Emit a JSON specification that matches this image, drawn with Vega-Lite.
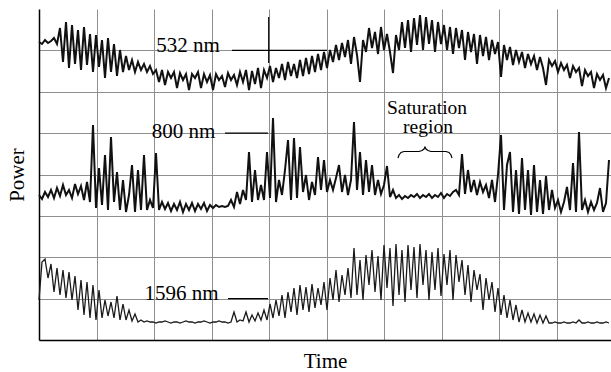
{
  "$schema": "https://vega.github.io/schema/vega-lite/v6.json",
  "width": 572,
  "height": 331,
  "autosize": {"type": "none"},
  "padding": {"left": 39, "top": 9, "right": 0, "bottom": 32},
  "background": "white",
  "config": {
    "view": {"stroke": null},
    "font": "Liberation Serif",
    "axis": {
      "grid": true,
      "gridColor": "#8f8f8f",
      "gridWidth": 1,
      "labels": false,
      "ticks": false,
      "domainColor": "#000000",
      "domainWidth": 1.5,
      "titleFont": "Liberation Serif",
      "titleFontSize": 21,
      "titleFontWeight": "normal",
      "titleColor": "#000000"
    }
  },
  "datasets": {
    "traces": [
      {"t":0,"p532":298,"p800":145,"p1596":40},
      {"t":3,"p532":296,"p800":141,"p1596":78},
      {"t":6,"p532":300,"p800":148,"p1596":81},
      {"t":9,"p532":297,"p800":143,"p1596":62},
      {"t":12,"p532":299,"p800":150,"p1596":76},
      {"t":15,"p532":302,"p800":142,"p1596":48},
      {"t":18,"p532":296,"p800":152,"p1596":72},
      {"t":21,"p532":312,"p800":144,"p1596":45},
      {"t":24,"p532":278,"p800":155,"p1596":70},
      {"t":27,"p532":318,"p800":145,"p1596":42},
      {"t":30,"p532":272,"p800":150,"p1596":68},
      {"t":33,"p532":315,"p800":142,"p1596":40},
      {"t":36,"p532":276,"p800":156,"p1596":64},
      {"t":39,"p532":310,"p800":146,"p1596":30},
      {"t":42,"p532":270,"p800":154,"p1596":60},
      {"t":45,"p532":313,"p800":140,"p1596":25},
      {"t":48,"p532":275,"p800":158,"p1596":58},
      {"t":51,"p532":306,"p800":138,"p1596":22},
      {"t":54,"p532":268,"p800":215,"p1596":55},
      {"t":57,"p532":305,"p800":132,"p1596":20},
      {"t":60,"p532":273,"p800":172,"p1596":50},
      {"t":63,"p532":300,"p800":135,"p1596":22},
      {"t":66,"p532":262,"p800":185,"p1596":40},
      {"t":69,"p532":302,"p800":130,"p1596":24},
      {"t":72,"p532":268,"p800":203,"p1596":38},
      {"t":75,"p532":296,"p800":138,"p1596":22},
      {"t":78,"p532":264,"p800":168,"p1596":44},
      {"t":81,"p532":290,"p800":130,"p1596":20},
      {"t":84,"p532":268,"p800":160,"p1596":36},
      {"t":87,"p532":284,"p800":128,"p1596":20},
      {"t":90,"p532":270,"p800":145,"p1596":30},
      {"t":93,"p532":280,"p800":175,"p1596":19},
      {"t":96,"p532":268,"p800":128,"p1596":26},
      {"t":99,"p532":278,"p800":170,"p1596":18},
      {"t":102,"p532":270,"p800":130,"p1596":20},
      {"t":105,"p532":276,"p800":185,"p1596":18},
      {"t":108,"p532":268,"p800":130,"p1596":19},
      {"t":111,"p532":274,"p800":140,"p1596":18},
      {"t":114,"p532":266,"p800":132,"p1596":18},
      {"t":117,"p532":270,"p800":187,"p1596":17},
      {"t":120,"p532":258,"p800":130,"p1596":18},
      {"t":123,"p532":270,"p800":138,"p1596":18},
      {"t":126,"p532":255,"p800":131,"p1596":19},
      {"t":129,"p532":268,"p800":137,"p1596":18},
      {"t":132,"p532":262,"p800":129,"p1596":17},
      {"t":135,"p532":268,"p800":136,"p1596":18},
      {"t":138,"p532":252,"p800":130,"p1596":18},
      {"t":141,"p532":267,"p800":138,"p1596":17},
      {"t":144,"p532":260,"p800":128,"p1596":18},
      {"t":147,"p532":266,"p800":136,"p1596":19},
      {"t":150,"p532":250,"p800":130,"p1596":18},
      {"t":153,"p532":266,"p800":137,"p1596":18},
      {"t":156,"p532":262,"p800":129,"p1596":17},
      {"t":159,"p532":268,"p800":136,"p1596":18},
      {"t":162,"p532":252,"p800":131,"p1596":18},
      {"t":165,"p532":266,"p800":137,"p1596":19},
      {"t":168,"p532":258,"p800":129,"p1596":18},
      {"t":171,"p532":265,"p800":135,"p1596":17},
      {"t":174,"p532":250,"p800":132,"p1596":18},
      {"t":177,"p532":266,"p800":135,"p1596":18},
      {"t":180,"p532":260,"p800":133,"p1596":19},
      {"t":183,"p532":264,"p800":134,"p1596":18},
      {"t":186,"p532":253,"p800":133,"p1596":18},
      {"t":189,"p532":267,"p800":134,"p1596":17},
      {"t":192,"p532":260,"p800":140,"p1596":18},
      {"t":195,"p532":265,"p800":133,"p1596":28},
      {"t":198,"p532":255,"p800":148,"p1596":18},
      {"t":201,"p532":268,"p800":136,"p1596":20},
      {"t":204,"p532":258,"p800":150,"p1596":19},
      {"t":207,"p532":270,"p800":140,"p1596":28},
      {"t":210,"p532":250,"p800":188,"p1596":18},
      {"t":213,"p532":269,"p800":138,"p1596":25},
      {"t":216,"p532":256,"p800":170,"p1596":19},
      {"t":219,"p532":272,"p800":140,"p1596":27},
      {"t":222,"p532":252,"p800":155,"p1596":20},
      {"t":225,"p532":270,"p800":140,"p1596":30},
      {"t":228,"p532":262,"p800":188,"p1596":20},
      {"t":231,"p532":274,"p800":142,"p1596":36},
      {"t":234,"p532":258,"p800":222,"p1596":22},
      {"t":237,"p532":272,"p800":138,"p1596":40},
      {"t":240,"p532":262,"p800":160,"p1596":24},
      {"t":243,"p532":276,"p800":145,"p1596":45},
      {"t":246,"p532":260,"p800":170,"p1596":22},
      {"t":249,"p532":278,"p800":200,"p1596":48},
      {"t":252,"p532":264,"p800":140,"p1596":28},
      {"t":255,"p532":276,"p800":202,"p1596":52},
      {"t":258,"p532":262,"p800":142,"p1596":25},
      {"t":261,"p532":280,"p800":193,"p1596":55},
      {"t":264,"p532":264,"p800":148,"p1596":30},
      {"t":267,"p532":282,"p800":165,"p1596":53},
      {"t":270,"p532":266,"p800":140,"p1596":28},
      {"t":273,"p532":284,"p800":158,"p1596":56},
      {"t":276,"p532":268,"p800":145,"p1596":32},
      {"t":279,"p532":286,"p800":183,"p1596":52},
      {"t":282,"p532":270,"p800":150,"p1596":35},
      {"t":285,"p532":288,"p800":180,"p1596":58},
      {"t":288,"p532":272,"p800":148,"p1596":30},
      {"t":291,"p532":290,"p800":160,"p1596":62},
      {"t":294,"p532":278,"p800":150,"p1596":40},
      {"t":297,"p532":295,"p800":162,"p1596":70},
      {"t":300,"p532":280,"p800":175,"p1596":38},
      {"t":303,"p532":297,"p800":148,"p1596":65},
      {"t":306,"p532":283,"p800":165,"p1596":45},
      {"t":309,"p532":300,"p800":145,"p1596":72},
      {"t":312,"p532":276,"p800":160,"p1596":42},
      {"t":315,"p532":303,"p800":218,"p1596":92},
      {"t":318,"p532":285,"p800":150,"p1596":45},
      {"t":321,"p532":258,"p800":188,"p1596":80},
      {"t":324,"p532":300,"p800":145,"p1596":40},
      {"t":327,"p532":288,"p800":180,"p1596":85},
      {"t":330,"p532":312,"p800":148,"p1596":55},
      {"t":333,"p532":292,"p800":175,"p1596":90},
      {"t":336,"p532":308,"p800":145,"p1596":48},
      {"t":339,"p532":286,"p800":160,"p1596":84},
      {"t":342,"p532":313,"p800":146,"p1596":40},
      {"t":345,"p532":290,"p800":155,"p1596":95},
      {"t":348,"p532":306,"p800":174,"p1596":52},
      {"t":351,"p532":288,"p800":143,"p1596":92},
      {"t":354,"p532":267,"p800":150,"p1596":34},
      {"t":357,"p532":305,"p800":142,"p1596":96},
      {"t":360,"p532":290,"p800":145,"p1596":45},
      {"t":363,"p532":318,"p800":141,"p1596":90},
      {"t":366,"p532":292,"p800":144,"p1596":38},
      {"t":369,"p532":320,"p800":142,"p1596":95},
      {"t":372,"p532":288,"p800":145,"p1596":50},
      {"t":375,"p532":322,"p800":143,"p1596":93},
      {"t":378,"p532":295,"p800":146,"p1596":42},
      {"t":381,"p532":325,"p800":142,"p1596":96},
      {"t":384,"p532":290,"p800":145,"p1596":55},
      {"t":387,"p532":323,"p800":143,"p1596":90},
      {"t":390,"p532":296,"p800":146,"p1596":40},
      {"t":393,"p532":320,"p800":142,"p1596":88},
      {"t":396,"p532":288,"p800":145,"p1596":50},
      {"t":399,"p532":318,"p800":143,"p1596":92},
      {"t":402,"p532":296,"p800":147,"p1596":44},
      {"t":405,"p532":315,"p800":142,"p1596":86},
      {"t":408,"p532":290,"p800":146,"p1596":55},
      {"t":411,"p532":313,"p800":144,"p1596":90},
      {"t":414,"p532":286,"p800":148,"p1596":40},
      {"t":417,"p532":312,"p800":150,"p1596":85},
      {"t":420,"p532":292,"p800":145,"p1596":58},
      {"t":423,"p532":310,"p800":186,"p1596":80},
      {"t":426,"p532":280,"p800":146,"p1596":45},
      {"t":429,"p532":308,"p800":170,"p1596":75},
      {"t":432,"p532":288,"p800":148,"p1596":38},
      {"t":435,"p532":306,"p800":160,"p1596":70},
      {"t":438,"p532":276,"p800":145,"p1596":50},
      {"t":441,"p532":305,"p800":158,"p1596":66},
      {"t":444,"p532":284,"p800":148,"p1596":30},
      {"t":447,"p532":303,"p800":155,"p1596":62},
      {"t":450,"p532":280,"p800":142,"p1596":40},
      {"t":453,"p532":300,"p800":160,"p1596":58},
      {"t":456,"p532":286,"p800":138,"p1596":28},
      {"t":459,"p532":298,"p800":165,"p1596":52},
      {"t":462,"p532":263,"p800":205,"p1596":25},
      {"t":465,"p532":295,"p800":130,"p1596":45},
      {"t":468,"p532":280,"p800":175,"p1596":22},
      {"t":471,"p532":293,"p800":188,"p1596":40},
      {"t":474,"p532":275,"p800":128,"p1596":20},
      {"t":477,"p532":290,"p800":170,"p1596":35},
      {"t":480,"p532":278,"p800":126,"p1596":18},
      {"t":483,"p532":288,"p800":182,"p1596":30},
      {"t":486,"p532":272,"p800":130,"p1596":18},
      {"t":489,"p532":286,"p800":170,"p1596":27},
      {"t":492,"p532":276,"p800":125,"p1596":18},
      {"t":495,"p532":284,"p800":175,"p1596":26},
      {"t":498,"p532":270,"p800":128,"p1596":17},
      {"t":501,"p532":283,"p800":160,"p1596":25},
      {"t":504,"p532":272,"p800":126,"p1596":17},
      {"t":507,"p532":255,"p800":164,"p1596":24},
      {"t":510,"p532":280,"p800":130,"p1596":17},
      {"t":513,"p532":274,"p800":150,"p1596":17},
      {"t":516,"p532":279,"p800":132,"p1596":18},
      {"t":519,"p532":268,"p800":140,"p1596":17},
      {"t":522,"p532":277,"p800":128,"p1596":17},
      {"t":525,"p532":270,"p800":138,"p1596":18},
      {"t":528,"p532":275,"p800":153,"p1596":17},
      {"t":531,"p532":262,"p800":130,"p1596":17},
      {"t":534,"p532":274,"p800":177,"p1596":18},
      {"t":537,"p532":268,"p800":128,"p1596":17},
      {"t":540,"p532":272,"p800":208,"p1596":20},
      {"t":543,"p532":254,"p800":130,"p1596":17},
      {"t":546,"p532":270,"p800":140,"p1596":17},
      {"t":549,"p532":264,"p800":128,"p1596":18},
      {"t":552,"p532":268,"p800":138,"p1596":17},
      {"t":555,"p532":252,"p800":130,"p1596":17},
      {"t":558,"p532":266,"p800":137,"p1596":18},
      {"t":561,"p532":260,"p800":152,"p1596":17},
      {"t":564,"p532":265,"p800":128,"p1596":17},
      {"t":567,"p532":252,"p800":137,"p1596":18},
      {"t":570,"p532":262,"p800":180,"p1596":17}
    ],
    "labels": [
      {"t":149,"p":288.3,"label":"532 nm"},
      {"t":144.5,"p":202,"label":"800 nm"},
      {"t":142.5,"p":40,"label":"1596 nm"}
    ],
    "notes": [
      {"t":388,"p":226.5,"label":"Saturation"},
      {"t":389,"p":207.5,"label":"region"}
    ],
    "leaders": [
      {"t":193,"t2":288,"p":289.6,"p2":289.6},
      {"t":229.7,"t2":229.7,"p":277,"p2":323},
      {"t":186,"t2":229,"p":206.9,"p2":206.9},
      {"t":189,"t2":229,"p":41.4,"p2":41.4}
    ],
    "brace": [
      {"t":359,"p":182},
      {"t":360,"p":185},
      {"t":362,"p":187.5},
      {"t":365,"p":188.5},
      {"t":380,"p":188.5},
      {"t":383,"p":189.5},
      {"t":385,"p":191},
      {"t":386,"p":193},
      {"t":387,"p":191},
      {"t":389,"p":189.5},
      {"t":392,"p":188.5},
      {"t":407,"p":188.5},
      {"t":410,"p":187.5},
      {"t":412,"p":185},
      {"t":413,"p":182}
    ]
  },
  "layer": [
    {
      "data": {"name": "traces"},
      "mark": {"type": "line", "color": "#1a1a1a", "strokeWidth": 1.3},
      "encoding": {
        "x": {
          "field": "t", "type": "quantitative",
          "scale": {"domain": [0, 572], "nice": false, "zero": false},
          "axis": {"values": [57.5, 115, 172.5, 230, 287.5, 345, 402.5, 460, 517.5], "titlePadding": 10},
          "title": "Time"
        },
        "y": {
          "field": "p1596", "type": "quantitative",
          "scale": {"domain": [0, 331], "nice": false, "zero": false},
          "axis": {"values": [41.375, 82.75, 124.125, 165.5, 206.875, 248.25, 289.625], "titlePadding": 12},
          "title": "Power"
        }
      }
    },
    {
      "data": {"name": "traces"},
      "mark": {"type": "line", "color": "#111111", "strokeWidth": 2},
      "encoding": {
        "x": {"field": "t", "type": "quantitative", "title": "Time"},
        "y": {"field": "p800", "type": "quantitative", "title": "Power"}
      }
    },
    {
      "data": {"name": "traces"},
      "mark": {"type": "line", "color": "#111111", "strokeWidth": 2},
      "encoding": {
        "x": {"field": "t", "type": "quantitative", "title": "Time"},
        "y": {"field": "p532", "type": "quantitative", "title": "Power"}
      }
    },
    {
      "data": {"name": "leaders"},
      "mark": {"type": "rule", "color": "#000000", "strokeWidth": 1.2},
      "encoding": {
        "x": {"field": "t", "type": "quantitative", "title": "Time"},
        "x2": {"field": "t2"},
        "y": {"field": "p", "type": "quantitative", "title": "Power"},
        "y2": {"field": "p2"}
      }
    },
    {
      "data": {"name": "brace"},
      "mark": {"type": "line", "color": "#000000", "strokeWidth": 1.2},
      "encoding": {
        "x": {"field": "t", "type": "quantitative", "title": "Time"},
        "y": {"field": "p", "type": "quantitative", "title": "Power"}
      }
    },
    {
      "data": {"name": "labels"},
      "mark": {"type": "text", "font": "Liberation Serif", "fontSize": 21, "color": "#000000", "align": "center", "baseline": "alphabetic"},
      "encoding": {
        "x": {"field": "t", "type": "quantitative", "title": "Time"},
        "y": {"field": "p", "type": "quantitative", "title": "Power"},
        "text": {"field": "label"}
      }
    },
    {
      "data": {"name": "notes"},
      "mark": {"type": "text", "font": "Liberation Serif", "fontSize": 19.5, "color": "#000000", "align": "center", "baseline": "alphabetic"},
      "encoding": {
        "x": {"field": "t", "type": "quantitative", "title": "Time"},
        "y": {"field": "p", "type": "quantitative", "title": "Power"},
        "text": {"field": "label"}
      }
    },
    {
      "mark": {"type": "rule", "color": "#000000", "strokeWidth": 1.5},
      "encoding": {"y": {"datum": 331}}
    }
  ]
}
